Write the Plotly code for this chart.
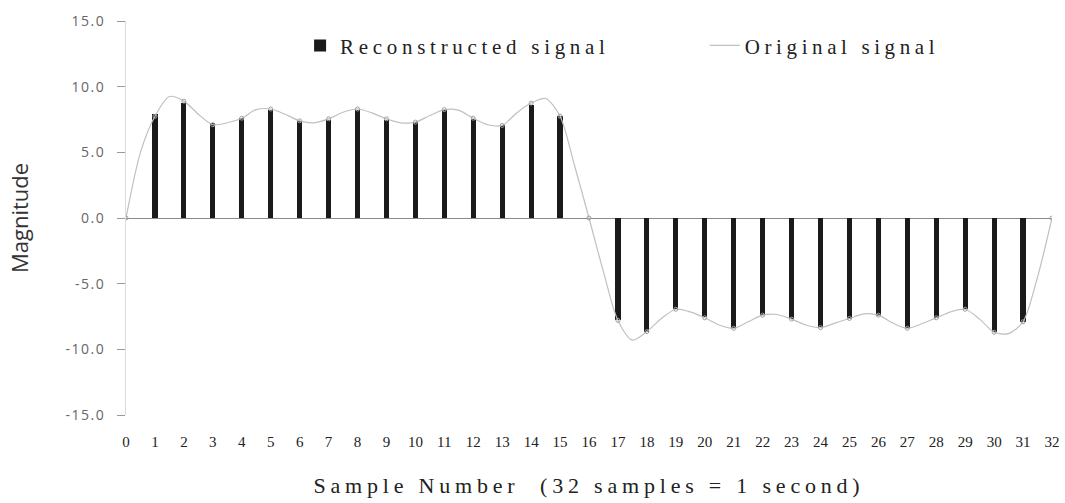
import plotly.graph_objects as go

# Sample index of each reconstructed value (32 samples = 1 second)
samples = list(range(33))
reconstructed = [
    0.0, 7.9, 8.75, 7.25, 7.6, 8.25, 7.35, 7.5, 8.2, 7.5, 7.3, 8.2, 7.55, 7.1, 8.6, 7.75,
    0.0, -7.8, -8.65, -6.9, -7.55, -8.35, -7.35, -7.7, -8.3, -7.7, -7.45, -8.35, -7.6,
    -6.9, -8.7, -7.9, 0.0,
]

# Original (continuous) signal, read every half sample
curve_x = [i / 2 for i in range(65)]
original = [
    0.0, 5.0, 7.75, 9.25, 8.9, 7.9, 7.1, 7.25, 7.6, 8.25, 8.3, 7.9, 7.4, 7.25, 7.55, 8.05,
    8.3, 8.0, 7.55, 7.25, 7.3, 7.8, 8.25, 8.2, 7.6, 7.1, 7.05, 8.0, 8.75, 9.1, 7.75, 4.0,
    0.0, -4.1, -7.8, -9.3, -8.65, -7.65, -6.95, -7.15, -7.6, -8.15, -8.4, -7.9, -7.4,
    -7.35, -7.7, -8.15, -8.35, -8.0, -7.65, -7.3, -7.4, -8.0, -8.4, -8.05, -7.6, -7.15,
    -6.95, -7.7, -8.7, -8.8, -7.9, -4.5, 0.0,
]

x_ticks = list(range(33))
y_ticks = [-15, -10, -5, 0, 5, 10, 15]

SERIF = "Liberation Serif, Times New Roman, serif"
SANS = "Open Sans, Noto Sans, sans-serif"


def tracked(text, px):
    """Label with widened letter tracking."""
    return f'<span style="letter-spacing:{px}px">{text}</span>'


fig = go.Figure()

fig.add_trace(go.Bar(
    x=samples, y=reconstructed, width=0.18,
    marker=dict(color="#1a1a1a", line=dict(width=0)),
    name=tracked("Reconstructed signal", 4.7), legend="legend",
))

fig.add_trace(go.Scatter(
    x=curve_x, y=original, mode="lines",
    line=dict(color="#c0c0c0", width=1.2, shape="spline", smoothing=0.8),
    name=tracked("Original signal", 4.6), legend="legend2",
))

# small sample markers on the original signal
fig.add_trace(go.Scatter(
    x=curve_x[::2], y=original[::2], mode="markers",
    marker=dict(symbol="circle-open", size=4, color="#a0a0a0", line=dict(width=1)),
    showlegend=False, hoverinfo="skip",
))

fig.update_layout(
    width=1065, height=503,
    margin=dict(l=126, r=13, t=21, b=88),
    paper_bgcolor="white", plot_bgcolor="white",
    bargap=0,
    legend=dict(
        x=0.188, y=0.937, xanchor="left", yanchor="middle",
        font=dict(family=SERIF, size=21, color="#222"),
        bgcolor="rgba(0,0,0,0)", itemwidth=30,
    ),
    legend2=dict(
        x=0.625, y=0.937, xanchor="left", yanchor="middle",
        font=dict(family=SERIF, size=21, color="#222"),
        bgcolor="rgba(0,0,0,0)", itemwidth=30,
    ),
)

fig.update_xaxes(
    range=[0, 32], tickmode="array", tickvals=x_ticks,
    ticktext=[str(v) for v in x_ticks],
    showgrid=False, zeroline=False, showline=False, ticks="",
    ticklabelstandoff=16,
    tickfont=dict(family=SERIF, size=15, color="#222"),
    title=dict(text=tracked("Sample Number  (32 samples = 1 second)", 4.8),
               font=dict(family=SERIF, size=22, color="#222"), standoff=28),
    automargin=False,
)

fig.update_yaxes(
    range=[-15, 15], tickmode="array", tickvals=y_ticks,
    ticktext=[tracked(f"{v:.1f}", 1.5) for v in y_ticks],
    showgrid=False, zeroline=True, zerolinecolor="#8a8a8a", zerolinewidth=1,
    showline=True, linecolor="#dcdcdc", linewidth=1,
    ticks="outside", ticklen=8, tickcolor="#9a9a9a", tickwidth=1,
    ticklabelstandoff=9,
    tickfont=dict(family=SANS, size=14, color="#666"),
    title=dict(text="Magnitude", font=dict(family=SANS, size=22, color="#333"), standoff=30),
    automargin=False,
)

fig.write_html("out.html")
